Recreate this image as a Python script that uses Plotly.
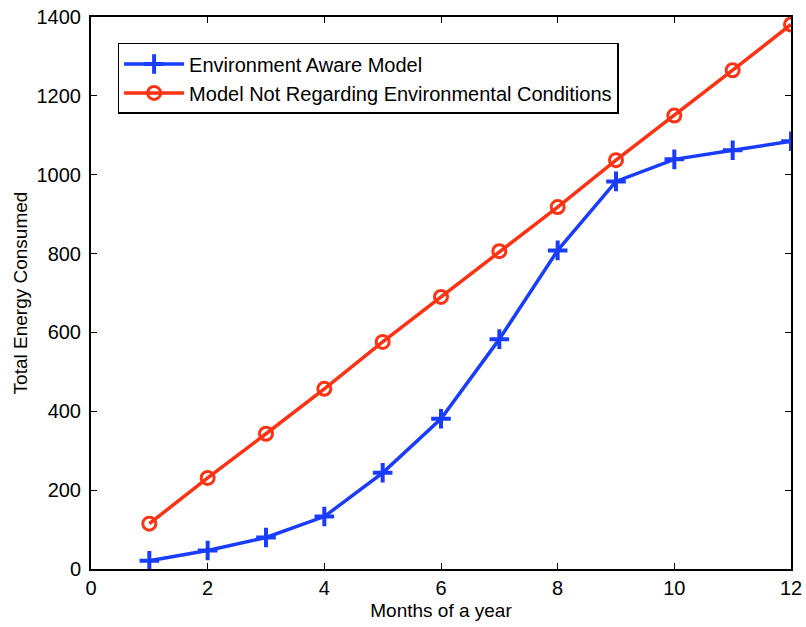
import plotly.graph_objects as go

months = [1, 2, 3, 4, 5, 6, 7, 8, 9, 10, 11, 12]
env_aware = [21, 47, 80, 133, 244, 381, 583, 808, 983, 1039, 1062, 1085]
not_regarding = [115, 231, 343, 457, 576, 690, 806, 918, 1037, 1150, 1265, 1381]
x_ticks = [0, 2, 4, 6, 8, 10, 12]
y_ticks = [0, 200, 400, 600, 800, 1000, 1200, 1400]

FS = 20

fig = go.Figure()
fig.add_trace(go.Scatter(
    x=months, y=env_aware, mode="lines+markers", name="Environment Aware Model",
    line=dict(color="#1a3cff", width=3.5),
    marker=dict(symbol="cross-thin", size=14, line=dict(color="#1a3cff", width=4)),
))
fig.add_trace(go.Scatter(
    x=months, y=not_regarding, mode="lines+markers",
    name="Model Not Regarding Environmental Conditions",
    line=dict(color="#ff3214", width=3.5),
    marker=dict(symbol="circle-open", size=13, line=dict(color="#ff3214", width=3)),
))

axis_common = dict(
    showgrid=False, zeroline=False, showline=True, linecolor="black", linewidth=2,
    mirror="ticks", ticks="inside", ticklen=6, tickcolor="black", tickwidth=1,
    tickfont=dict(size=FS, color="black"), automargin=False,
)
fig.update_xaxes(range=[0, 12], tickvals=x_ticks,
                 title=dict(text="Months of a year", font=dict(size=FS - 1, color="black"), standoff=6),
                 **axis_common)
fig.update_yaxes(range=[0, 1400], tickvals=y_ticks, ticklabelstandoff=4,
                 title=dict(text="Total Energy Consumed", font=dict(size=FS - 1, color="black"), standoff=4),
                 **axis_common)

fig.update_layout(
    width=806, height=627,
    margin=dict(l=91, r=15, t=17, b=58, autoexpand=False),
    paper_bgcolor="white", plot_bgcolor="white",
    font=dict(family="Liberation Sans, Arial, sans-serif", color="black"),
    legend=dict(x=0.038, y=0.953, xanchor="left", yanchor="top",
                bgcolor="white", bordercolor="black", borderwidth=1.5,
                font=dict(size=FS, color="black"), itemwidth=60),
    showlegend=True,
)

fig.write_html(
    "out.html",
    config={"displayModeBar": False},
    post_script="document.body.style.margin='0';document.body.style.overflow='hidden';"
                "document.documentElement.style.overflow='hidden';",
)
